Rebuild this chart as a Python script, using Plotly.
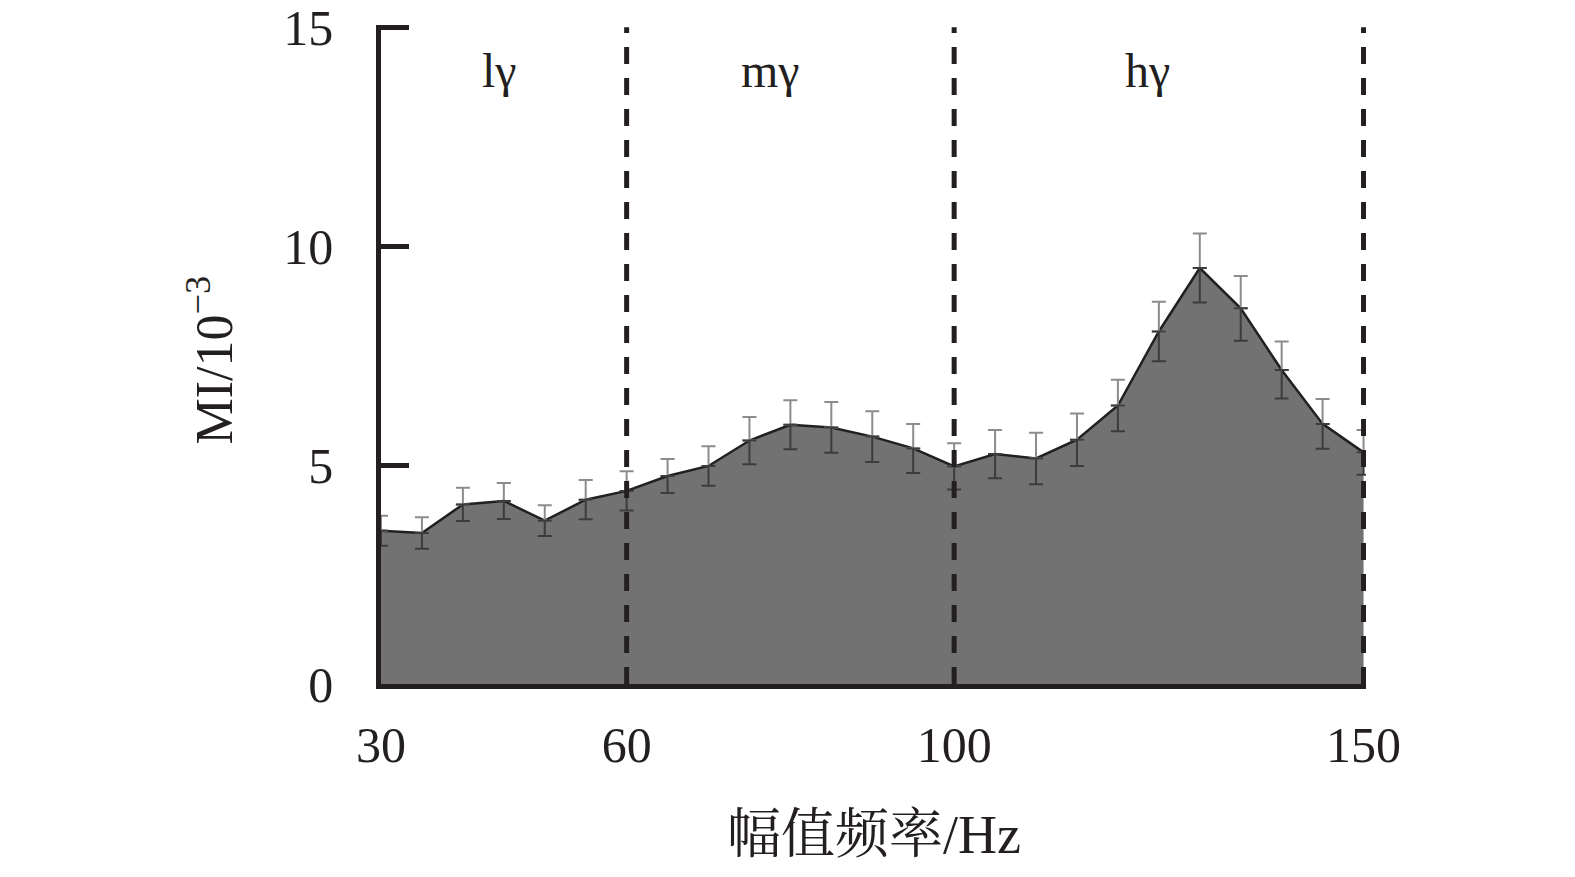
import plotly.graph_objects as go

freq = [30, 35, 40, 45, 50, 55, 60, 65, 70, 75, 80, 85, 90, 95, 100,
        105, 110, 115, 120, 125, 130, 135, 140, 145, 150]
mi = [3.50, 3.45, 4.10, 4.18, 3.73, 4.21, 4.41, 4.75, 4.98, 5.56, 5.92, 5.86, 5.65, 5.38, 4.97,
      5.25, 5.15, 5.58, 6.36, 8.05, 9.50, 8.58, 7.17, 5.94, 5.29]
err = [0.34, 0.36, 0.38, 0.41, 0.35, 0.45, 0.45, 0.39, 0.45, 0.54, 0.56, 0.58, 0.58, 0.56, 0.53,
       0.55, 0.59, 0.60, 0.59, 0.68, 0.79, 0.74, 0.65, 0.57, 0.51]
band_edges = [60, 100, 150]
band_labels = ["lγ", "mγ", "hγ"]
band_label_x = [44.5, 77.6, 123.6]
y_ticks = [0, 5, 10, 15]
x_ticks = [30, 60, 100, 150]

FONT = "Liberation Serif, Noto Serif CJK SC, Noto Sans CJK SC, serif"
INK = "#231f20"

fig = go.Figure()

fig.add_trace(go.Scatter(
    x=freq, y=mi, mode="lines", fill="tozeroy",
    fillcolor="#727272", line=dict(color=INK, width=2.5),
    showlegend=False, hoverinfo="skip"))

zeros = [0] * len(err)
fig.add_trace(go.Scatter(
    x=freq, y=mi, mode="markers", marker=dict(size=1, opacity=0),
    error_y=dict(type="data", symmetric=False, array=err, arrayminus=zeros,
                 color="#8c8c8c", thickness=2, width=7),
    showlegend=False, hoverinfo="skip"))
fig.add_trace(go.Scatter(
    x=freq, y=mi, mode="markers", marker=dict(size=1, opacity=0),
    error_y=dict(type="data", symmetric=False, array=zeros, arrayminus=err,
                 color="#3c3c3c", thickness=2, width=7),
    showlegend=False, hoverinfo="skip"))

for xe in band_edges:
    fig.add_shape(type="line", xref="x", yref="y", x0=xe, x1=xe, y0=0, y1=15,
                  line=dict(color=INK, width=5, dash="17px,14px"), layer="above")

for lab, lx in zip(band_labels, band_label_x):
    fig.add_annotation(x=lx, y=14.0, xref="x", yref="y", text=lab, showarrow=False,
                       font=dict(family=FONT, size=48, color=INK))

fig.add_annotation(x=-170 / 985, y=0.5 - 6 / 659, xref="paper", yref="paper",
                   text="MI/10<sup>−3</sup>", textangle=-90, showarrow=False,
                   xanchor="center", yanchor="middle",
                   font=dict(family=FONT, size=52, color=INK))
fig.add_annotation(x=0.5, y=-151 / 659, xref="paper", yref="paper",
                   text="幅值频率/Hz", showarrow=False,
                   xanchor="center", yanchor="middle",
                   font=dict(family=FONT, size=54, color=INK))

fig.update_layout(
    width=1575, height=877,
    margin=dict(l=373, r=217, t=17, b=201, autoexpand=False),
    paper_bgcolor="white", plot_bgcolor="white",
    font=dict(family=FONT, size=50, color=INK),
    xaxis=dict(range=[30, 150.3], tickvals=x_ticks, ticks="", showgrid=False,
               zeroline=False, showline=True, linecolor=INK, linewidth=4.5,
               ticklabelstandoff=13, tickfont=dict(size=50), automargin=False,
               ticklabeloverflow="allow"),
    yaxis=dict(range=[0, 15.05], tickvals=y_ticks, ticks="inside", ticklen=28,
               tickwidth=4.5, tickcolor=INK, showgrid=False, zeroline=False,
               showline=True, linecolor=INK, linewidth=4.5,
               ticklabelstandoff=33, tickfont=dict(size=50), automargin=False,
               ticklabeloverflow="allow"),
)

fig.write_html("out.html")
